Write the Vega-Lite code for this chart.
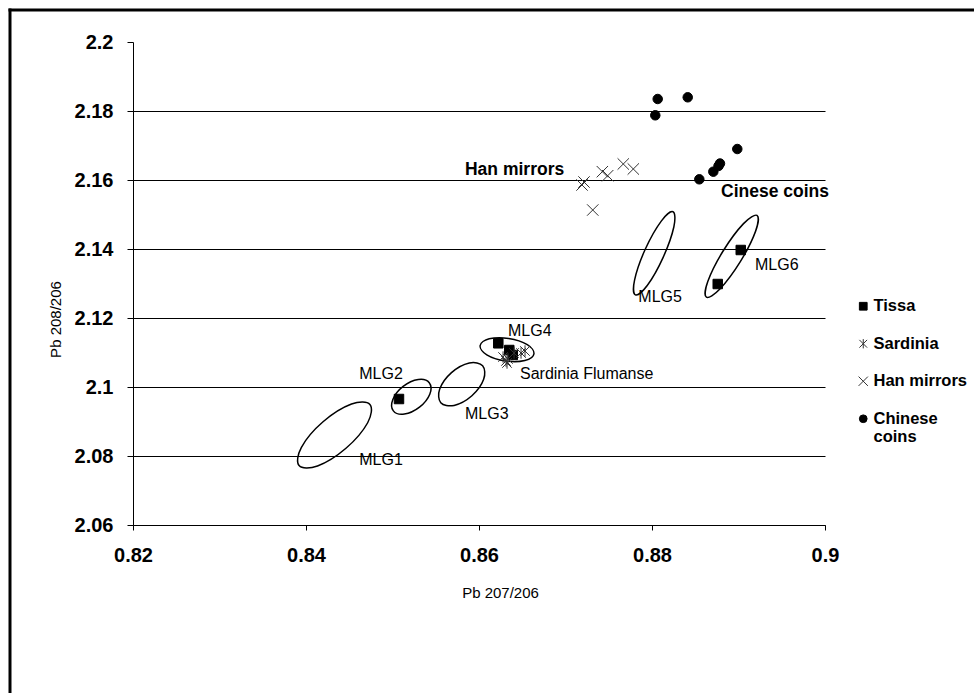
{
  "$schema": "https://vega.github.io/schema/vega-lite/v6.json",
  "width": 692,
  "height": 483,
  "autosize": {"type": "none"},
  "padding": {"left": 133, "top": 42, "right": 149, "bottom": 168},
  "background": "white",
  "config": {
    "view": {"stroke": null},
    "font": "Liberation Sans",
    "axis": {
      "labelFont": "Liberation Sans",
      "labelFontSize": 20,
      "labelFontWeight": "bold",
      "labelColor": "black",
      "titleFont": "Liberation Sans",
      "titleFontSize": 15,
      "titleFontWeight": "normal",
      "titleColor": "black",
      "domainColor": "black",
      "domainWidth": 1,
      "tickColor": "black",
      "tickWidth": 1,
      "labelFlush": false,
      "labelOverlap": false
    },
    "axisX": {"grid": false, "tickSize": 5, "labelPadding": 15, "titleX": 367, "titleY": 67, "titleBaseline": "middle", "titleAlign": "center"},
    "axisY": {"grid": true, "gridColor": {"condition": {"test": "datum.value > 2.19", "value": "transparent"}, "value": "black"}, "gridWidth": 1, "tickSize": 6, "labelPadding": 14, "titleX": -70, "titleY": 277, "titleAlign": "center"},
    "legend": {
      "labelFont": "Liberation Sans", "labelFontSize": 16.5, "labelFontWeight": "bold", "labelColor": "black",
      "rowPadding": 20.5, "symbolSize": 60, "symbolStrokeWidth": 1, "labelOffset": 2, "padding": 0
    }
  },
  "datasets": {
    "points": [
      {"series": "Tissa", "x": 0.86223, "y": 2.11267},
      {"series": "Tissa", "x": 0.8635, "y": 2.11072},
      {"series": "Tissa", "x": 0.8639, "y": 2.10927},
      {"series": "Tissa", "x": 0.85075, "y": 2.09652},
      {"series": "Tissa", "x": 0.89026, "y": 2.13971},
      {"series": "Tissa", "x": 0.8876, "y": 2.12985},
      {"series": "Sardinia", "x": 0.86278, "y": 2.10869},
      {"series": "Sardinia", "x": 0.86324, "y": 2.10696},
      {"series": "Sardinia", "x": 0.86335, "y": 2.10812},
      {"series": "Sardinia", "x": 0.86312, "y": 2.10754},
      {"series": "Sardinia", "x": 0.86405, "y": 2.10985},
      {"series": "Sardinia", "x": 0.86486, "y": 2.10985},
      {"series": "Sardinia", "x": 0.86532, "y": 2.11043},
      {"series": "Han mirrors", "x": 0.87191, "y": 2.15855},
      {"series": "Han mirrors", "x": 0.87214, "y": 2.15942},
      {"series": "Han mirrors", "x": 0.87315, "y": 2.1513},
      {"series": "Han mirrors", "x": 0.87426, "y": 2.16241},
      {"series": "Han mirrors", "x": 0.87488, "y": 2.16125},
      {"series": "Han mirrors", "x": 0.87668, "y": 2.16464},
      {"series": "Han mirrors", "x": 0.87784, "y": 2.16319},
      {"series": "Chinese coins", "x": 0.88066, "y": 2.18348},
      {"series": "Chinese coins", "x": 0.88413, "y": 2.18397},
      {"series": "Chinese coins", "x": 0.88038, "y": 2.17875},
      {"series": "Chinese coins", "x": 0.88986, "y": 2.16898},
      {"series": "Chinese coins", "x": 0.88786, "y": 2.16478},
      {"series": "Chinese coins", "x": 0.88769, "y": 2.16406},
      {"series": "Chinese coins", "x": 0.88709, "y": 2.16241},
      {"series": "Chinese coins", "x": 0.88547, "y": 2.1602}
    ],
    "ellipses": [
      {"group": "MLG1", "i": 0, "x": 0.84739, "y": 2.09495},
      {"group": "MLG1", "i": 1, "x": 0.84713, "y": 2.08964},
      {"group": "MLG1", "i": 2, "x": 0.84462, "y": 2.08224},
      {"group": "MLG1", "i": 3, "x": 0.84133, "y": 2.0771},
      {"group": "MLG1", "i": 4, "x": 0.8392, "y": 2.07722},
      {"group": "MLG1", "i": 5, "x": 0.83947, "y": 2.08253},
      {"group": "MLG1", "i": 6, "x": 0.84197, "y": 2.08993},
      {"group": "MLG1", "i": 7, "x": 0.84526, "y": 2.09507},
      {"group": "MLG2", "i": 0, "x": 0.85425, "y": 2.10124},
      {"group": "MLG2", "i": 1, "x": 0.85431, "y": 2.09791},
      {"group": "MLG2", "i": 2, "x": 0.85312, "y": 2.09415},
      {"group": "MLG2", "i": 3, "x": 0.85137, "y": 2.09214},
      {"group": "MLG2", "i": 4, "x": 0.8501, "y": 2.09308},
      {"group": "MLG2", "i": 5, "x": 0.85004, "y": 2.0964},
      {"group": "MLG2", "i": 6, "x": 0.85123, "y": 2.10017},
      {"group": "MLG2", "i": 7, "x": 0.85298, "y": 2.10217},
      {"group": "MLG3", "i": 0, "x": 0.86042, "y": 2.10616},
      {"group": "MLG3", "i": 1, "x": 0.86054, "y": 2.10222},
      {"group": "MLG3", "i": 2, "x": 0.85918, "y": 2.09746},
      {"group": "MLG3", "i": 3, "x": 0.85712, "y": 2.09466},
      {"group": "MLG3", "i": 4, "x": 0.85558, "y": 2.09546},
      {"group": "MLG3", "i": 5, "x": 0.85546, "y": 2.09939},
      {"group": "MLG3", "i": 6, "x": 0.85682, "y": 2.10416},
      {"group": "MLG3", "i": 7, "x": 0.85888, "y": 2.10696},
      {"group": "MLG4", "i": 0, "x": 0.86635, "y": 2.10963},
      {"group": "MLG4", "i": 1, "x": 0.8653, "y": 2.10767},
      {"group": "MLG4", "i": 2, "x": 0.86304, "y": 2.10754},
      {"group": "MLG4", "i": 3, "x": 0.8609, "y": 2.10933},
      {"group": "MLG4", "i": 4, "x": 0.86013, "y": 2.11199},
      {"group": "MLG4", "i": 5, "x": 0.86118, "y": 2.11396},
      {"group": "MLG4", "i": 6, "x": 0.86343, "y": 2.11408},
      {"group": "MLG4", "i": 7, "x": 0.86558, "y": 2.11229},
      {"group": "MLG5", "i": 0, "x": 0.88243, "y": 2.15079},
      {"group": "MLG5", "i": 1, "x": 0.88253, "y": 2.14644},
      {"group": "MLG5", "i": 2, "x": 0.88129, "y": 2.13758},
      {"group": "MLG5", "i": 3, "x": 0.87945, "y": 2.12941},
      {"group": "MLG5", "i": 4, "x": 0.87808, "y": 2.12671},
      {"group": "MLG5", "i": 5, "x": 0.87799, "y": 2.13107},
      {"group": "MLG5", "i": 6, "x": 0.87922, "y": 2.13993},
      {"group": "MLG5", "i": 7, "x": 0.88107, "y": 2.14809},
      {"group": "MLG6", "i": 0, "x": 0.89214, "y": 2.14974},
      {"group": "MLG6", "i": 1, "x": 0.89198, "y": 2.14518},
      {"group": "MLG6", "i": 2, "x": 0.89021, "y": 2.13634},
      {"group": "MLG6", "i": 3, "x": 0.88785, "y": 2.12841},
      {"group": "MLG6", "i": 4, "x": 0.88629, "y": 2.12602},
      {"group": "MLG6", "i": 5, "x": 0.88645, "y": 2.13058},
      {"group": "MLG6", "i": 6, "x": 0.88822, "y": 2.13942},
      {"group": "MLG6", "i": 7, "x": 0.89058, "y": 2.14736}
    ],
    "labels": [
      {"label": "MLG1", "x": 0.84616, "y": 2.07884},
      {"label": "MLG2", "x": 0.84616, "y": 2.10377},
      {"label": "MLG3", "x": 0.85838, "y": 2.09208},
      {"label": "MLG4", "x": 0.86335, "y": 2.11637},
      {"label": "Sardinia Flumanse", "x": 0.86474, "y": 2.10377},
      {"label": "MLG5", "x": 0.87842, "y": 2.12617},
      {"label": "MLG6", "x": 0.89191, "y": 2.13536}
    ],
    "boldLabels": [
      {"label": "Han mirrors", "x": 0.85838, "y": 2.1629},
      {"label": "Cinese coins", "x": 0.88798, "y": 2.15652}
    ]
  },
  "layer": [
    {
      "data": {"values": [{}]},
      "mark": {"type": "rule", "color": "black", "strokeWidth": 3, "strokeCap": "square", "clip": false},
      "encoding": {
        "x": {"datum": 0.80578, "type": "quantitative", "title": "Pb 207/206"},
        "y": {"datum": 2.20928, "type": "quantitative", "title": "Pb 208/206"},
        "y2": {"datum": 1.9}
      }
    },
    {
      "data": {"values": [{}]},
      "mark": {"type": "rule", "color": "black", "strokeWidth": 3, "strokeCap": "square", "clip": false},
      "encoding": {
        "x": {"datum": 0.80578, "type": "quantitative", "title": "Pb 207/206"},
        "x2": {"datum": 0.95},
        "y": {"datum": 2.20928, "type": "quantitative", "title": "Pb 208/206"}
      }
    },
    {
      "data": {"name": "ellipses"},
      "mark": {"type": "line", "interpolate": "cardinal-closed", "color": "black", "strokeWidth": 1.5},
      "encoding": {
        "x": {"field": "x", "type": "quantitative", "title": "Pb 207/206"},
        "y": {"field": "y", "type": "quantitative", "title": "Pb 208/206"},
        "detail": {"field": "group", "type": "nominal"},
        "order": {"field": "i", "type": "quantitative"}
      }
    },
    {
      "data": {"name": "points"},
      "mark": {"type": "point", "strokeWidth": 1, "opacity": 1, "size": 90},
      "encoding": {
        "x": {
          "field": "x", "type": "quantitative", "title": "Pb 207/206",
          "scale": {"domain": [0.82, 0.9], "nice": false, "zero": false},
          "axis": {"values": [0.82, 0.84, 0.86, 0.88, 0.9], "format": ".2~f"}
        },
        "y": {
          "field": "y", "type": "quantitative", "title": "Pb 208/206",
          "scale": {"domain": [2.06, 2.2], "nice": false, "zero": false},
          "axis": {"values": [2.06, 2.08, 2.1, 2.12, 2.14, 2.16, 2.18, 2.2], "format": ".2~f"}
        },
        "shape": {
          "field": "series", "type": "nominal", "title": null,
          "scale": {
            "domain": ["Tissa", "Sardinia", "Han mirrors", "Chinese coins"],
            "range": ["square", "M-1,-1L1,1M-1,1L1,-1M0,-1.2L0,1.2", "M-1.2,-1.2L1.2,1.2M-1.2,1.2L1.2,-1.2", "circle"]
          },
          "legend": {
            "orient": "none", "legendX": 722, "legendY": 256,
            "labelExpr": "datum.label == 'Chinese coins' ? ['Chinese', 'coins'] : datum.label"
          }
        },
        "fill": {
          "field": "series", "type": "nominal", "title": null,
          "scale": {"domain": ["Tissa", "Sardinia", "Han mirrors", "Chinese coins"], "range": ["black", "transparent", "transparent", "black"]}
        },
        "stroke": {
          "field": "series", "type": "nominal", "title": null,
          "scale": {"domain": ["Tissa", "Sardinia", "Han mirrors", "Chinese coins"], "range": ["black", "#333333", "#333333", "black"]}
        }
      }
    },
    {
      "data": {"name": "labels"},
      "mark": {"type": "text", "align": "left", "baseline": "middle", "font": "Liberation Sans", "fontSize": 16, "color": "black"},
      "encoding": {
        "x": {"field": "x", "type": "quantitative", "title": "Pb 207/206"},
        "y": {"field": "y", "type": "quantitative", "title": "Pb 208/206"},
        "text": {"field": "label"}
      }
    },
    {
      "data": {"name": "boldLabels"},
      "mark": {"type": "text", "align": "left", "baseline": "middle", "font": "Liberation Sans", "fontSize": 17.5, "fontWeight": "bold", "color": "black"},
      "encoding": {
        "x": {"field": "x", "type": "quantitative", "title": "Pb 207/206"},
        "y": {"field": "y", "type": "quantitative", "title": "Pb 208/206"},
        "text": {"field": "label"}
      }
    }
  ]
}
